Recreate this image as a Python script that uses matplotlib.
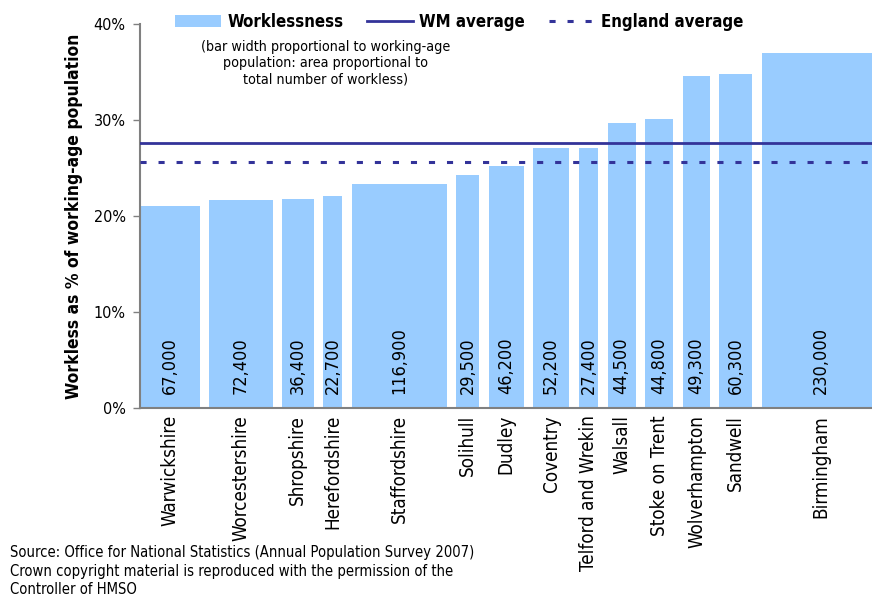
import numpy as np
import matplotlib.pyplot as plt
from matplotlib.patches import Patch
from matplotlib.lines import Line2D

plt.rcParams['font.family'] = ['DejaVu Sans']
plt.rcParams['font.stretch'] = 'condensed'

# Workless rate (% of working-age population) and number of workless by area
areas = ['Warwickshire', 'Worcestershire', 'Shropshire', 'Herefordshire',
         'Staffordshire', 'Solihull', 'Dudley', 'Coventry', 'Telford and Wrekin',
         'Walsall', 'Stoke on Trent', 'Wolverhampton', 'Sandwell', 'Birmingham']
rate = [21.0, 21.7, 21.8, 22.1, 23.3, 24.3, 25.2, 27.1, 27.1,
        29.7, 30.1, 34.6, 34.8, 37.0]
workless = [67000, 72400, 36400, 22700, 116900, 29500, 46200, 52200, 27400,
            44500, 44800, 49300, 60300, 230000]
wm_avg = 27.6
eng_avg = 25.6

bar_col = '#99ccff'
line_col = '#333399'
dash = (2.0, 3.9)

# bar width = working-age population
pop = np.array(workless) / (np.array(rate) / 100)
gap = 50000
lefts = np.concatenate([[0], np.cumsum(pop + gap)[:-1]])
centres = lefts + pop / 2

fig = plt.figure(figsize=(8.72, 5.99), dpi=100)
ax = fig.add_axes([0.160, 0.3189, 0.840, 0.641])

ax.bar(lefts, rate, width=pop, align='edge', color=bar_col, zorder=1)
ax.axhline(wm_avg, color=line_col, lw=2.0, zorder=3)
ax.axhline(eng_avg, color=line_col, lw=2.2, dashes=dash, zorder=3)

for c, w in zip(centres, workless):
    ax.text(c, 1.45, f'{w:,}', rotation=90, ha='center', va='bottom',
            fontsize=13)

ax.set_xlim(0, 3870e3)
ax.set_ylim(0, 40)
ax.set_yticks([0, 10, 20, 30, 40])
ax.set_yticklabels([f'{t}%' for t in [0, 10, 20, 30, 40]], fontsize=11.5)
ax.set_xticks(centres)
ax.set_xticklabels(areas, rotation=90, va='top', ha='center', fontsize=13.5)
ax.tick_params(axis='x', length=0, pad=5)
ax.tick_params(axis='y', length=5, width=1, color='#808080', pad=5)

for s in ['top', 'right']:
    ax.spines[s].set_visible(False)
for s in ['left', 'bottom']:
    ax.spines[s].set_color('#808080')
    ax.spines[s].set_linewidth(1.5)

ax.set_ylabel('Workless as % of working-age population', fontsize=12.5,
              fontweight='bold', labelpad=8)

handles = [Patch(facecolor=bar_col, edgecolor='none'),
           Line2D([], [], color=line_col, lw=2.0),
           Line2D([], [], color=line_col, lw=2.2, dashes=dash)]
fig.legend(handles, ['Worklessness', 'WM average', 'England average'],
           loc='center left', bbox_to_anchor=(0.1835, 0.963), ncol=3,
           frameon=False, handlelength=2.7, handletextpad=0.4,
           columnspacing=1.42, prop={'weight': 'bold', 'size': 12.1})

fig.text(0.373, 0.933, '(bar width proportional to working-age\n'
         'population: area proportional to\ntotal number of workless)',
         ha='center', va='top', fontsize=10.3, linespacing=1.2)

fig.text(0.011, 0.090, 'Source: Office for National Statistics (Annual Population Survey 2007)\n'
         'Crown copyright material is reproduced with the permission of the\n'
         'Controller of HMSO', ha='left', va='top', fontsize=10.6, linespacing=1.3)

fig.savefig('out.png', dpi=100)
